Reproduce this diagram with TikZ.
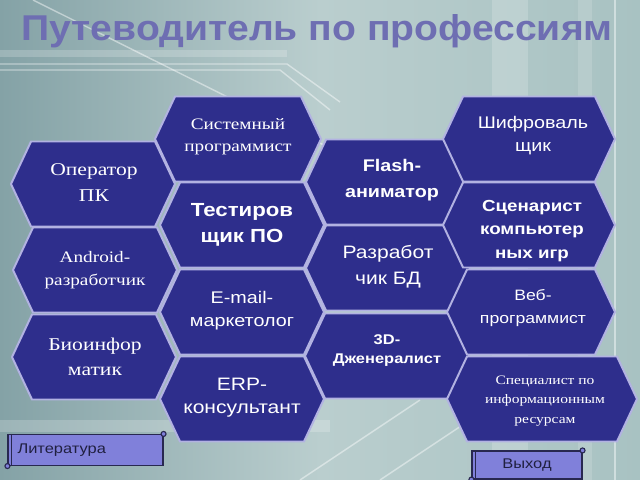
\documentclass[tikz,border=0pt]{standalone}
\usepackage{fontspec}
\setmainfont[FakeStretch=1.2]{Liberation Serif}
\setsansfont[FakeStretch=1.17]{Liberation Sans}
\newfontfamily\titlefont[FakeStretch=1.09]{Liberation Sans}
\usetikzlibrary{positioning}

\definecolor{hexblue}{RGB}{46,46,140}
\definecolor{hexedge}{RGB}{178,178,226}
\definecolor{titleblue}{RGB}{110,110,178}
\definecolor{btnfill}{RGB}{128,128,218}
\definecolor{btnedge}{RGB}{40,40,80}
\definecolor{bgleft}{RGB}{132,162,166}
\definecolor{bgmid}{RGB}{186,206,206}
\definecolor{bgright}{RGB}{168,194,194}

\tikzset{
  hexa/.style={fill=hexblue, draw=hexedge, line width=1.4pt, line join=miter},
  hexlabel/.style={text=white, align=center, inner sep=0pt},
  bgline/.style={draw=white, opacity=0.45, line width=1pt},
  scrollbtn/.style={fill=btnfill, draw=btnedge, line width=0.8pt, inner sep=0pt,
    font=\sffamily\fontsize{10}{12}\selectfont, text=btnedge!80!black}
}

\begin{document}
\begin{tikzpicture}[x=0.025cm, y=-0.025cm]
  % background
  \shade[left color=bgleft, right color=bgright, middle color=bgmid] (0,0) rectangle (640,480);
  \useasboundingbox (0,0) rectangle (640,480);
  \fill[white, opacity=0.18] (492,0) rectangle (528,480);
  \fill[white, opacity=0.15] (578,0) rectangle (592,480);
  \fill[white, opacity=0.2] (0,50) rectangle (287,57);
  \draw[bgline] (0,64) -- (287,64) -- (340,102);
  \draw[bgline] (0,70) -- (280,70) -- (330,110);
  \draw[bgline] (33,0) -- (410,188);
  \draw[bgline] (615,0) -- (615,480);
  \fill[white, opacity=0.2] (0,420) -- (330,420) -- (330,432) -- (0,432) -- cycle;
  \draw[bgline] (300,480) -- (420,400);
  \draw[bgline] (380,480) -- (470,420);

  % title
  \node[text=titleblue, font=\titlefont\bfseries\fontsize{25.5}{30}\selectfont] (title) at (317,31) {Путеводитель по профессиям};

  % hexagons: name / centre / half width / text position / font / text
  \foreach \n/\cx/\cy/\hw/\tx/\ty/\f/\t in {
    oper/93/184/82/94/183/{\rmfamily\fontsize{12.8}{18.5}\selectfont}/{Оператор\\ПК},
    andr/95/270/82/95/270/{\rmfamily\fontsize{11.4}{16.4}\selectfont}/{Android-\\разработчик},
    bio/94/357/82/95/357/{\rmfamily\fontsize{12.8}{17.8}\selectfont}/{Биоинфор\\матик},
    sys/238/139/83/238/137/{\rmfamily\fontsize{11.4}{15.6}\selectfont}/{Системный\\программист},
    test/242/225/82/242/225/{\sffamily\bfseries\fontsize{13.5}{18.5}\selectfont}/{Тестиров\\щик ПО},
    mail/242/312/82/242/311/{\sffamily\fontsize{12}{16.4}\selectfont}/{E-mail-\\маркетолог},
    erp/242/399/82/242/398/{\sffamily\fontsize{12.8}{16.4}\selectfont}/{ERP-\\консультант},
    flash/388/182/82/392/180/{\sffamily\bfseries\fontsize{12}{18.5}\selectfont}/{Flash-\\аниматор},
    bd/388/268/82/388/267/{\sffamily\fontsize{12.8}{18.5}\selectfont}/{Разработ\\чик БД},
    gen/387/356/82/387/351/{\sffamily\bfseries\fontsize{10}{13.5}\selectfont}/{3D-\\Дженералист},
    shif/529/139/86/533/136/{\sffamily\fontsize{12}{16.4}\selectfont}/{Шифроваль\\щик},
    scen/529/225/86/532/231/{\sffamily\bfseries\fontsize{11.4}{16.7}\selectfont}/{Сценарист\\компьютер\\ных игр},
    web/531/312/84/533/308/{\sffamily\fontsize{10.7}{16.4}\selectfont}/{Веб-\\программист},
    spec/542/399/95/545/401/{\rmfamily\fontsize{9.2}{13.9}\selectfont}/{Специалист по\\информационным\\ресурсам}}
  {
    \draw[hexa] (\cx-\hw,\cy) -- (\cx-\hw+20,\cy-42.5) -- (\cx+\hw-20,\cy-42.5)
      -- (\cx+\hw,\cy) -- (\cx+\hw-20,\cy+42.5) -- (\cx-\hw+20,\cy+42.5) -- cycle;
    \node[hexlabel, font=\f] (\n) at (\tx,\ty) {\t};
  }

  % buttons
  \node[scrollbtn, minimum width=155*0.025cm, minimum height=31*0.025cm,
    text width=136*0.025cm, align=left] (lit) at (85.5,450) {Литература};
  \node[scrollbtn, minimum width=110*0.025cm, minimum height=28*0.025cm] (exit) at (527,465) {Выход};
  \foreach \b in {lit,exit} {
    \draw[btnedge, fill=btnfill, line width=0.8pt] (\b.north east) circle (2.5);
    \draw[btnedge, fill=btnfill, line width=0.8pt] (\b.south west) circle (2.5);
    \draw[btnedge, line width=0.8pt] ([xshift=0.1cm]\b.north west) -- ([xshift=0.1cm]\b.south west);
  }
\end{tikzpicture}
\end{document}
